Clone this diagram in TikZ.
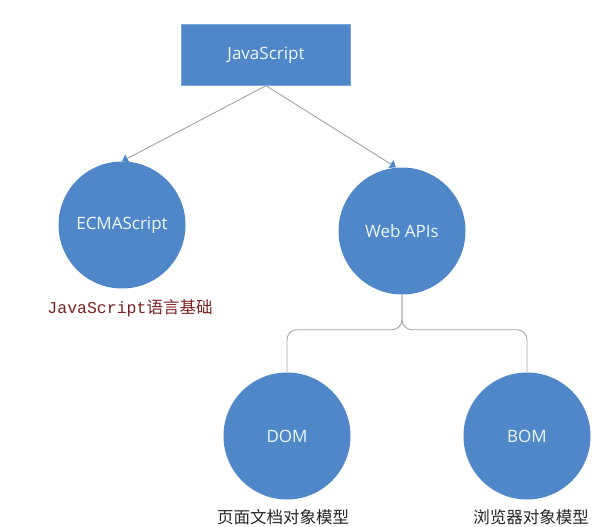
\documentclass[tikz,border=0pt]{standalone}
\usepackage{fontspec}
\setmainfont{Open Sans}
\newfontfamily\cjkfont{Noto Sans CJK SC}
\newfontfamily\monofont{Liberation Mono}
\usetikzlibrary{arrows.meta,positioning}
\definecolor{apiBlue}{HTML}{4F87C9}
\definecolor{apiEdge}{HTML}{7AA7DC}
\definecolor{apiText}{HTML}{EEF8F8}
\definecolor{apiLine}{HTML}{A3A3A3}
\definecolor{apiRed}{HTML}{7A2222}
\tikzset{
  topbox/.style={draw=apiEdge, fill=apiBlue, text=apiText, minimum width=169pt, minimum height=61pt, font=\fontsize{17}{20}\selectfont},
  ball/.style={circle, fill=apiBlue, text=apiText, minimum size=127pt, inner sep=0pt, font=\fontsize{17}{20}\selectfont},
  caption/.style={inner sep=0pt, font=\cjkfont\fontsize{16.5}{19}\selectfont, text=black!85},
  link/.style={draw=apiLine, line width=0.9pt},
  tip/.style={-{Triangle[length=6pt,width=9pt,color=apiBlue]}}
}
\begin{document}
\begin{tikzpicture}[x=1pt, y=-1pt]
  \useasboundingbox (0,0) rectangle (616,527);
  \node[topbox] (js) at (266,55) {JavaScript};
  \node[ball] (ecma) at (122,225) {ECMAScript};
  \node[ball] (web) at (402,231) {Web APIs};
  \node[ball] (dom) at (287,436) {DOM};
  \node[ball] (bom) at (527,436) {BOM};

  \node[caption, text=apiRed, below=11pt of ecma, xshift=8pt] (ecmalbl) {{\monofont JavaScript}语言基础};
  \node[caption, below=10pt of dom, xshift=-4pt] (domlbl) {页面文档对象模型};
  \node[caption, below=10pt of bom, xshift=4pt] (bomlbl) {浏览器对象模型};

  \draw[link, tip] (js.south) -- (ecma.north);
  \draw[link, tip] (js.south) -- ([xshift=-6pt]web.north);

  % brace under Web APIs
  \foreach \n in {dom,bom}
    \draw[link, rounded corners=10pt] (\n.north) |- ([yshift=-35pt]web.south) -- (web.south);
\end{tikzpicture}
\end{document}
